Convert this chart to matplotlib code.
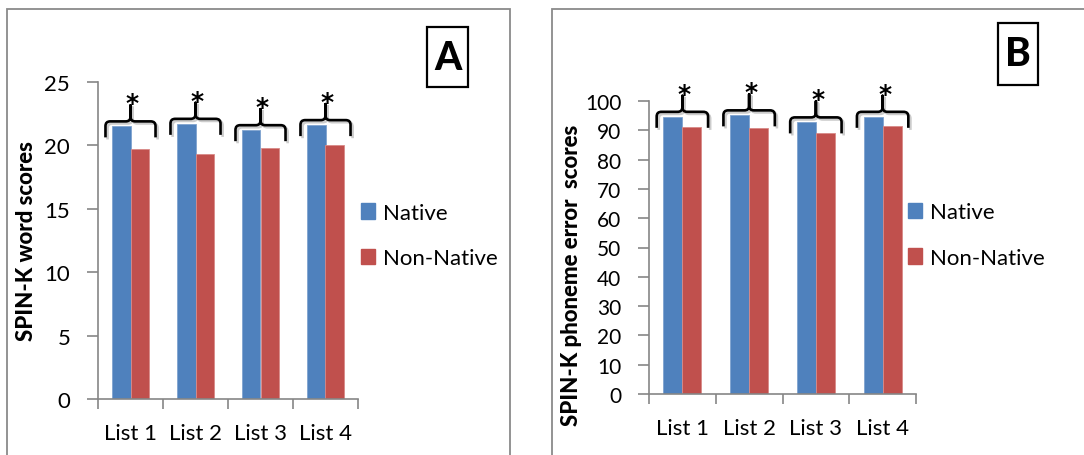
import numpy as np
import matplotlib
matplotlib.use('Agg')
import matplotlib.pyplot as plt
from matplotlib.patches import Rectangle, PathPatch, Patch
from matplotlib.path import Path
import matplotlib.patheffects as pe

plt.rcParams['font.family'] = ['Lato', 'DejaVu Sans']

# data
lists = ['List 1', 'List 2', 'List 3', 'List 4']
word_native = [21.5, 21.7, 21.2, 21.6]
word_nonnative = [19.7, 19.3, 19.8, 20.0]
phon_native = [94.6, 95.1, 92.7, 94.6]
phon_nonnative = [91.0, 90.7, 89.1, 91.6]

W, H = 1084, 456
blue = '#4F81BD'
red = '#C0504D'
grey = '#868686'

fig = plt.figure(figsize=(W/100, H/100), dpi=100)


def px_rect(x0, y0, x1, y1):
    # pixel box (top-left origin) -> figure fraction [l, b, w, h]
    return [x0/W, 1 - y1/H, (x1-x0)/W, (y1-y0)/H]


def brace(ax, xc, ytop, k, kx, half=0.385, d=16, c=5):
    # horizontal curly brace; d, c in pixels, k/kx = pixels per data unit
    dy, cy, cx = d / k, c / k, c / kx
    x0, x1 = xc - half, xc + half
    verts = [(x0, ytop - dy), (x0, ytop - cy),
             (x0, ytop - 0.3*cy), (x0 + 0.3*cx, ytop), (x0 + cx, ytop),
             (xc - cx, ytop),
             (xc - 0.3*cx, ytop), (xc, ytop + 0.3*cy), (xc, ytop + cy),
             (xc, ytop + dy), (xc, ytop + cy),
             (xc, ytop + 0.3*cy), (xc + 0.3*cx, ytop), (xc + cx, ytop),
             (x1 - cx, ytop),
             (x1 - 0.3*cx, ytop), (x1, ytop - 0.3*cy), (x1, ytop - cy),
             (x1, ytop - dy)]
    codes = [Path.MOVETO, Path.LINETO] + [Path.CURVE4]*3 + [Path.LINETO] \
        + [Path.CURVE4]*3 + [Path.LINETO]*2 + [Path.CURVE4]*3 + [Path.LINETO] \
        + [Path.CURVE4]*3 + [Path.LINETO]
    p = PathPatch(Path(verts, codes), fc='none', ec='black', lw=1.9,
                  clip_on=False, joinstyle='round',
                  path_effects=[pe.SimpleLineShadow(offset=(1.5, -1.5), alpha=0.2),
                                pe.Normal()])
    ax.add_patch(p)
    ax.text(xc + 0.03, ytop + dy - 5/k, '*', ha='center', va='baseline',
            fontsize=18, fontweight='bold', family='DejaVu Sans', clip_on=False)


def panel(rect_px, native, nonnative, ymax, ystep, tick_fs, ylabel, lab_xy,
          leg_px, letter, box_px, frame_px):
    ax = fig.add_axes(px_rect(*rect_px))
    x = np.arange(len(lists))
    bw = 0.285
    ax.bar(x - bw/2, native, bw, color=blue, edgecolor='#7fa3cf', lw=0.6)
    ax.bar(x + bw/2, nonnative, bw, color=red, edgecolor='#d98a88', lw=0.6)
    ax.set_xlim(-0.5, len(lists) - 0.5)
    ax.set_ylim(0, ymax)
    ax.set_yticks(np.arange(0, ymax + 1, ystep))
    ax.set_xticks(x)
    ax.set_xticklabels(lists, fontsize=16)
    ax.set_xticks(np.arange(-0.5, len(lists)), minor=True)
    ax.tick_params(axis='x', which='major', length=0, pad=17)
    ax.tick_params(axis='x', which='minor', length=7, color=grey, width=1.2)
    ax.tick_params(axis='y', length=8, color=grey, width=1.2, pad=12,
                   labelsize=tick_fs)
    for s in ['top', 'right']:
        ax.spines[s].set_visible(False)
    for s in ['left', 'bottom']:
        ax.spines[s].set_color(grey)
        ax.spines[s].set_linewidth(1.2)

    k = (rect_px[3] - rect_px[1]) / ymax
    kx = (rect_px[2] - rect_px[0]) / len(lists)
    for i in range(len(lists)):
        top = max(native[i], nonnative[i]) + 5/k
        brace(ax, i, top, k, kx)

    fig.text(lab_xy[0]/W, 1 - lab_xy[1]/H, ylabel, rotation=90, ha='center',
             va='center', fontsize=16, fontweight='black')

    handles = [Patch(color=blue, label='Native'),
               Patch(color=red, label='Non-Native')]
    fig.legend(handles=handles, loc='center left',
               bbox_to_anchor=(leg_px[0]/W, 1 - leg_px[1]/H), frameon=False,
               fontsize=16, handlelength=0.65, handleheight=0.68,
               handletextpad=0.35, labelspacing=1.15, borderpad=0,
               borderaxespad=0)

    bx = Rectangle((box_px[0]/W, 1 - box_px[3]/H), (box_px[2]-box_px[0])/W,
                   (box_px[3]-box_px[1])/H, transform=fig.transFigure,
                   fc='white', ec='black', lw=1.6)
    fig.patches.append(bx)
    fig.text((box_px[0]+box_px[2])/2/W, 1 - (box_px[1]+box_px[3])/2/H, letter,
             ha='center', va='center', fontsize=28, fontweight='black')

    fr = Rectangle((frame_px[0]/W, 1 - frame_px[3]/H), (frame_px[2]-frame_px[0])/W,
                   (frame_px[3]-frame_px[1])/H, transform=fig.transFigure,
                   fc='none', ec='#8a8a8a', lw=1.3)
    fig.patches.append(fr)
    return ax


panel((98, 83, 358, 400), word_native, word_nonnative, 25, 5, 16,
      'SPIN-K word scores', (27, 241), (361, 236.5), 'A',
      (427, 28, 468, 88), (7, 10, 510, 480))
panel((649, 102, 916, 395), phon_native, phon_nonnative, 100, 10, 15,
      'SPIN-K phoneme error  scores', (572, 275), (908, 236), 'B',
      (998, 24, 1038, 86), (552, 10, 1110, 480))

fig.savefig('out.png', dpi=100)
